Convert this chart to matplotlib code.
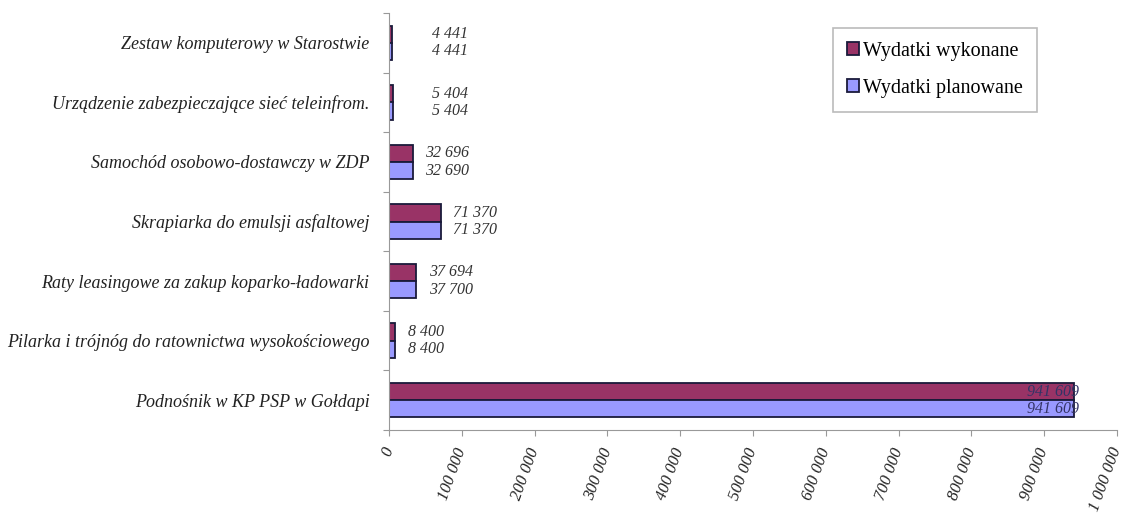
import numpy as np
import matplotlib.pyplot as plt
import matplotlib.transforms as mtransforms
from matplotlib.ticker import FuncFormatter

categories = [
    "Zestaw komputerowy w Starostwie",
    "Urządzenie zabezpieczające sieć teleinfrom.",
    "Samochód osobowo-dostawczy w ZDP",
    "Skrapiarka do emulsji asfaltowej",
    "Raty leasingowe za zakup koparko-ładowarki",
    "Pilarka i trójnóg do ratownictwa wysokościowego",
    "Podnośnik w KP PSP w Gołdapi",
]
wykonane = [4441, 5404, 32696, 71370, 37694, 8400, 941609]
planowane = [4441, 5404, 32690, 71370, 37700, 8400, 941609]
series_names = ["Wydatki wykonane", "Wydatki planowane"]

plt.rcParams["font.family"] = ["Liberation Serif", "DejaVu Serif"]

def fmt(v):
    return f"{v:,.0f}".replace(",", " ")

fig = plt.figure(figsize=(11.26, 5.17), dpi=100)
ax = fig.add_axes([389 / 1126, 87 / 517, 728 / 1126, 417 / 517])

n = len(categories)
y = np.arange(n)[::-1]  # first category on top
h = 0.29
bars_w = ax.barh(y + h / 2, wykonane, height=h, color="#993366",
                 edgecolor="#1a1a3a", linewidth=1.3, label=series_names[0])
bars_p = ax.barh(y - h / 2, planowane, height=h, color="#9999ff",
                 edgecolor="#1a1a3a", linewidth=1.3, label=series_names[1])

# value labels (the two top rows sit a bit further out in the original)
extra_pad = {0: 27, 1: 27}
for bars, vals in ((bars_w, wykonane), (bars_p, planowane)):
    for i, (b, v) in enumerate(zip(bars, vals)):
        yc = b.get_y() + b.get_height() / 2
        if v > 500000:
            ax.annotate(fmt(v), (v, yc), xytext=(3, 0), textcoords="offset points",
                        ha="right", va="center", fontsize=11.5, style="italic",
                        color="#333366")
        else:
            ax.annotate(fmt(v), (v, yc), xytext=(9 + extra_pad.get(i, 0) * 0.72, 0),
                        textcoords="offset points", ha="left", va="center",
                        fontsize=11.5, style="italic", color="#333333")

ax.set_xlim(0, 1000000)
ax.set_ylim(-0.5, n - 0.5)
ax.set_xticks(np.arange(0, 1000001, 100000))
ax.xaxis.set_major_formatter(FuncFormatter(lambda v, p: fmt(v)))
shift = mtransforms.ScaledTranslation(3 / 100, 0, fig.dpi_scale_trans)
for lbl in ax.get_xticklabels():
    lbl.set_rotation(70)
    lbl.set_rotation_mode("anchor")
    lbl.set_ha("right")
    lbl.set_va("center")
    lbl.set_style("italic")
    lbl.set_fontsize(12)
    lbl.set_color("#222222")
    lbl.set_transform(lbl.get_transform() + shift)

# category labels centred, ticks at the boundaries
ax.set_yticks(np.arange(-0.5, n, 1.0))
ax.set_yticklabels([])
ax.set_yticks(y, minor=True)
ax.set_yticklabels(categories, minor=True, fontsize=13, style="italic", color="#222222")
ax.tick_params(axis="y", which="minor", length=0, pad=14)
ax.tick_params(axis="y", which="major", length=4, color="#999999", direction="out")
ax.tick_params(axis="x", length=4, color="#999999", pad=9)

for s in ("top", "right"):
    ax.spines[s].set_visible(False)
for s in ("left", "bottom"):
    ax.spines[s].set_color("#999999")

leg = ax.legend(loc="upper left", bbox_to_anchor=(0.61, 0.965), fontsize=14.5,
                frameon=True, fancybox=False, edgecolor="#aaaaaa",
                handlelength=0.6, handleheight=0.6, handletextpad=0.2,
                borderpad=0.7, labelspacing=0.9, borderaxespad=0)
leg.get_frame().set_linewidth(1.2)

fig.savefig("out.png", dpi=100)
